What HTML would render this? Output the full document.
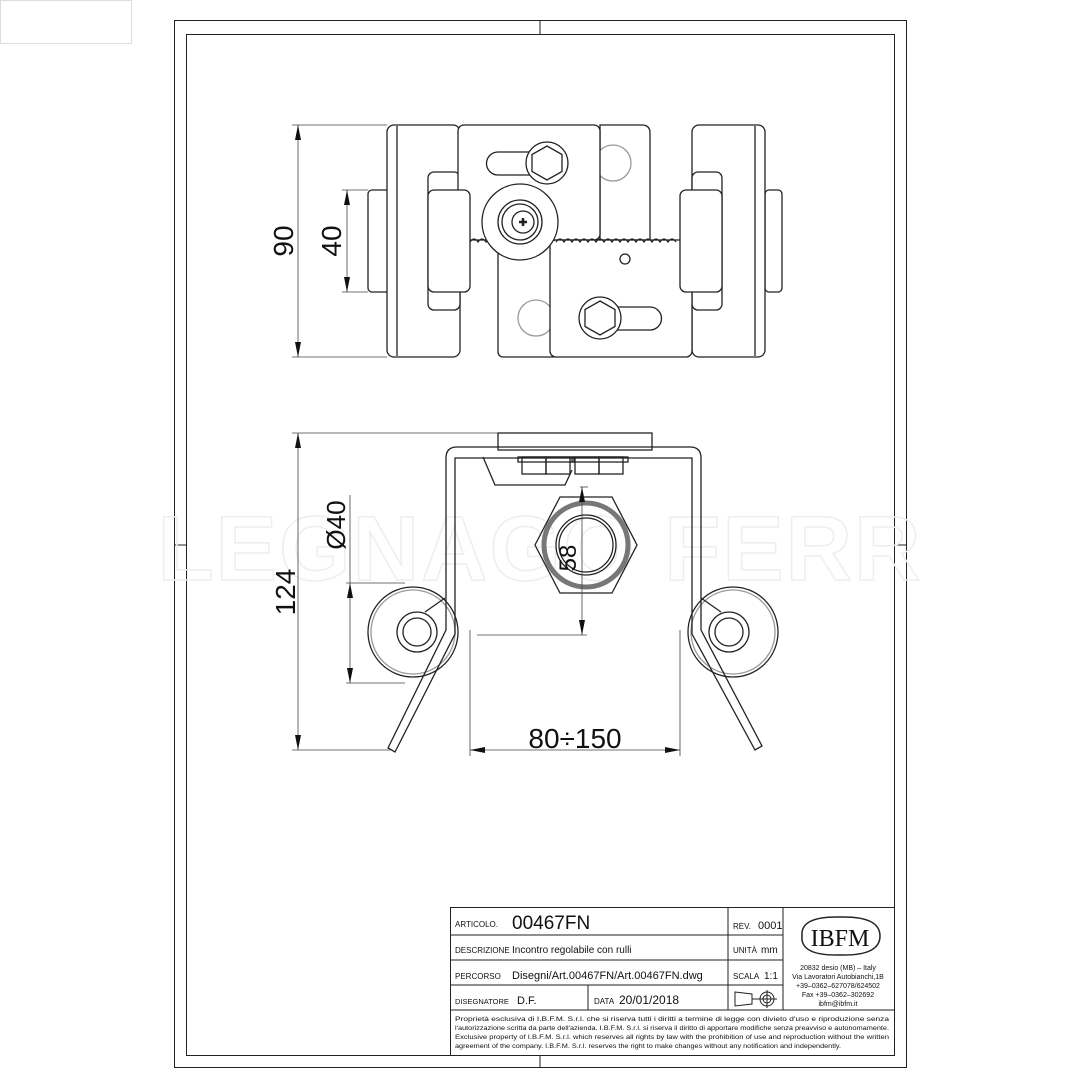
<!DOCTYPE html>
<html><head><meta charset="utf-8"><style>
html,body{margin:0;padding:0;background:#fff;}
svg{display:block;}
text{font-family:"Liberation Sans",sans-serif;fill:#111;}
</style></head><body>
<svg width="1080" height="1080" viewBox="0 0 1080 1080" xmlns="http://www.w3.org/2000/svg">
<rect x="0.5" y="0.5" width="131" height="43" fill="none" stroke="#ddd"/>
<g fill="none" stroke="#222" stroke-width="1">
<rect x="174.5" y="20.5" width="732" height="1047"/>
<rect x="186.5" y="34.5" width="708" height="1021"/>
<line x1="540" y1="20" x2="540" y2="34"/><line x1="540" y1="1055" x2="540" y2="1067"/>
<line x1="174" y1="545" x2="186" y2="545"/><line x1="894" y1="545" x2="906" y2="545"/>
</g>
<!-- watermark -->
<text x="540" y="580" text-anchor="middle" font-size="92" font-weight="bold" style="fill:none;stroke:#eee;stroke-width:1.5" letter-spacing="2">LEGNAGO FERR</text>

<!-- TOP VIEW -->
<g fill="#fff" stroke="#222" stroke-width="1.3">
<rect x="368" y="190" width="22" height="102" rx="4"/>
<rect x="765" y="190" width="17" height="102" rx="4"/>
<path d="M600 125 H642 Q650 125 650 133 V240 H600Z"/>
<circle cx="613" cy="163" r="18" stroke="#999"/>
<rect x="387" y="125" width="73" height="232" rx="7"/>
<line x1="397" y1="126" x2="397" y2="356"/>
<rect x="428" y="172" width="32" height="138" rx="6"/>
<rect x="692" y="125" width="73" height="232" rx="7"/>
<line x1="755" y1="126" x2="755" y2="356"/>
<rect x="692" y="172" width="30" height="138" rx="6"/>
<rect x="498" y="240" width="60" height="117" rx="5"/>
<circle cx="536" cy="318" r="18" stroke="#999"/>
<rect x="458" y="125" width="142" height="115" rx="6"/>
<rect x="550" y="240" width="142" height="117" rx="6"/>
<rect x="428" y="190" width="42" height="102" rx="6"/>
<rect x="680" y="190" width="42" height="102" rx="6"/>
<path d="M470 242 q4 -6 8 0 q4 -6 8 0 q4 -6 8 0 M556 242 q4 -6 8 0 q4 -6 8 0 q4 -6 8 0 q4 -6 8 0 q4 -6 8 0 q4 -6 8 0 q4 -6 8 0 q4 -6 8 0 q4 -6 8 0 q4 -6 8 0 q4 -6 8 0 q4 -6 8 0 q4 -6 8 0 q4 -6 8 0 q4 -6 8 0" fill="none"/>
<path d="M498 152 H530 V175 H498 A11.5 11.5 0 0 1 498 152Z"/>
<circle cx="547" cy="163" r="21"/>
<polygon points="547,146 562,154.5 562,171.5 547,180 532,171.5 532,154.5"/>
<path d="M650 307 H615 V330 H650 A11.5 11.5 0 0 0 650 307Z"/>
<circle cx="600" cy="318" r="21"/>
<polygon points="600,301 615,309.5 615,326.5 600,335 585,326.5 585,309.5"/>
<circle cx="625" cy="259" r="5"/>
<circle cx="520" cy="222" r="38"/>
<circle cx="520" cy="222" r="22"/>
<circle cx="520" cy="222" r="18"/>
<circle cx="523" cy="222" r="11"/>
<path d="M519 222 h8 M523 218 v8" stroke-width="2.5"/>
</g>
<!-- top dims -->
<g stroke="#444" stroke-width="0.8" fill="none">
<line x1="292" y1="125" x2="387" y2="125"/><line x1="292" y1="357" x2="387" y2="357"/>
<line x1="298" y1="125" x2="298" y2="357"/>
<line x1="342" y1="190" x2="368" y2="190"/><line x1="342" y1="292" x2="368" y2="292"/>
<line x1="347" y1="190" x2="347" y2="292"/>
</g>
<g fill="#111">
<polygon points="298,125 295,140 301,140"/><polygon points="298,357 295,342 301,342"/>
<polygon points="347,190 344,205 350,205"/><polygon points="347,292 344,277 350,277"/>
</g>
<text transform="translate(293,241) rotate(-90)" text-anchor="middle" font-size="28">90</text>
<text transform="translate(341,241) rotate(-90)" text-anchor="middle" font-size="28">40</text>

<!-- BOTTOM VIEW -->
<g fill="none" stroke="#222" stroke-width="1.3">
<rect x="498" y="433" width="154" height="17" fill="#fff"/>
<circle cx="413" cy="632" r="45"/><circle cx="413" cy="632" r="42" stroke="#999"/>
<circle cx="417" cy="632" r="20"/><circle cx="417" cy="632" r="14"/>
<circle cx="733" cy="632" r="45"/><circle cx="733" cy="632" r="42" stroke="#999"/>
<circle cx="729" cy="632" r="20"/><circle cx="729" cy="632" r="14"/>
<path d="M445 598 L425 612"/><path d="M701 598 L721 612"/>
<path d="M388 748 L446 630 V458 Q446 447 457 447 H690 Q701 447 701 458 V630 L762 746 L755 750 L692 634 V458 H455 V634 L395 752 Z" fill="none"/>
<path d="M483 457 L495 485 H565 L572 470"/>
<rect x="522" y="457" width="24" height="17"/><rect x="546" y="457" width="24" height="17"/><rect x="518" y="457" width="56" height="5"/>
<rect x="575" y="457" width="24" height="17"/><rect x="599" y="457" width="24" height="17"/><rect x="572" y="457" width="56" height="5"/>
<polygon points="560,497 612,497 637,545 612,593 560,593 535,545"/>
<circle cx="586" cy="545" r="42" stroke="#777" stroke-width="5"/>
<circle cx="586" cy="545" r="30"/>
<circle cx="586" cy="545" r="27"/>
</g>
<!-- bottom dims -->
<g stroke="#444" stroke-width="0.8" fill="none">
<line x1="292" y1="433" x2="498" y2="433"/><line x1="292" y1="750" x2="390" y2="750"/>
<line x1="298" y1="433" x2="298" y2="750"/>
<line x1="346" y1="583" x2="405" y2="583"/><line x1="346" y1="683" x2="405" y2="683"/>
<line x1="350" y1="495" x2="350" y2="683"/>
<line x1="580" y1="487" x2="588" y2="487"/><line x1="477" y1="635" x2="587" y2="635"/>
<line x1="582" y1="487" x2="582" y2="635"/>
<line x1="470" y1="630" x2="470" y2="756"/><line x1="680" y1="630" x2="680" y2="756"/>
<line x1="470" y1="750" x2="680" y2="750"/>
</g>
<g fill="#111">
<polygon points="298,433 295,448 301,448"/><polygon points="298,750 295,735 301,735"/>
<polygon points="350,583 347,598 353,598"/><polygon points="350,683 347,668 353,668"/>
<polygon points="582,487 579,502 585,502"/><polygon points="582,635 579,620 585,620"/>
<polygon points="470,750 485,747 485,753"/><polygon points="680,750 665,747 665,753"/>
</g>
<text transform="translate(295,592) rotate(-90)" text-anchor="middle" font-size="28">124</text>
<text transform="translate(345,525) rotate(-90)" text-anchor="middle" font-size="26">Ø40</text>
<text transform="translate(576,558) rotate(-90)" text-anchor="middle" font-size="24">58</text>
<text x="575" y="748" text-anchor="middle" font-size="28">80÷150</text>

<!-- TITLE BLOCK -->
<g fill="none" stroke="#222" stroke-width="1">
<rect x="450.5" y="907.5" width="444" height="148"/>
<line x1="450" y1="935" x2="783" y2="935"/><line x1="450" y1="960" x2="783" y2="960"/>
<line x1="450" y1="985" x2="783" y2="985"/><line x1="450" y1="1010" x2="894" y2="1010"/>
<line x1="728" y1="907" x2="728" y2="1010"/><line x1="783" y1="907" x2="783" y2="1010"/>
<line x1="588" y1="985" x2="588" y2="1010"/>
<path d="M802 936 Q800 916 840 917 Q880 916 880 936 Q880 956 840 955 Q800 956 802 936Z" stroke-width="1.5"/>
<path d="M735 992 L752 994 V1004 L735 1006Z M752 999 H760"/>
<circle cx="767" cy="999" r="7"/><circle cx="767" cy="999" r="4"/>
<line x1="757" y1="999" x2="777" y2="999"/><line x1="767" y1="990" x2="767" y2="1008"/>
</g>
<g font-size="8">
<text x="455" y="927">ARTICOLO.</text>
<text x="512" y="929" font-size="19" font-weight="300">00467FN</text>
<text x="733" y="929">REV.</text><text x="758" y="929" font-size="11">0001</text>
<text x="455" y="953">DESCRIZIONE</text>
<text x="512" y="953" font-size="10">Incontro regolabile con rulli</text>
<text x="733" y="953">UNITÀ</text><text x="761" y="953" font-size="10">mm</text>
<text x="455" y="979">PERCORSO</text>
<text x="512" y="979" font-size="11">Disegni/Art.00467FN/Art.00467FN.dwg</text>
<text x="733" y="979">SCALA</text><text x="764" y="979" font-size="10">1:1</text>
<text x="455" y="1004" font-size="7.5">DISEGNATORE</text><text x="517" y="1004" font-size="11">D.F.</text>
<text x="594" y="1004">DATA</text><text x="619" y="1004" font-size="12">20/01/2018</text>
<text x="840" y="946" text-anchor="middle" font-size="24" font-family="Liberation Serif" style="font-family:'Liberation Serif',serif">IBFM</text>
<g font-size="7" text-anchor="middle">
<text x="838" y="970">20832 desio (MB) – Italy</text>
<text x="838" y="979">Via Lavoratori Autobianchi,1B</text>
<text x="838" y="988">+39–0362–627078/624502</text>
<text x="838" y="997">Fax +39–0362–302692</text>
<text x="838" y="1006">ibfm@ibfm.it</text>
</g>
<g font-size="6.2">
<text x="455" y="1021" textLength="434" lengthAdjust="spacingAndGlyphs">Proprietà esclusiva di I.B.F.M. S.r.l. che si riserva tutti i diritti a termine di legge con divieto d'uso e riproduzione senza</text>
<text x="455" y="1030" textLength="434" lengthAdjust="spacingAndGlyphs">l'autorizzazione scritta da parte dell'azienda. I.B.F.M. S.r.l. si riserva il diritto di apportare modifiche senza preavviso e autonomamente.</text>
<text x="455" y="1039" textLength="434" lengthAdjust="spacingAndGlyphs">Exclusive property of I.B.F.M. S.r.l. which reserves all rights by law with the prohibition of use and reproduction without the written</text>
<text x="455" y="1048" textLength="386" lengthAdjust="spacingAndGlyphs">agreement of the company. I.B.F.M. S.r.l. reserves the right to make changes without any notification and independently.</text>
</g>
</g>
</svg>
</body></html>
